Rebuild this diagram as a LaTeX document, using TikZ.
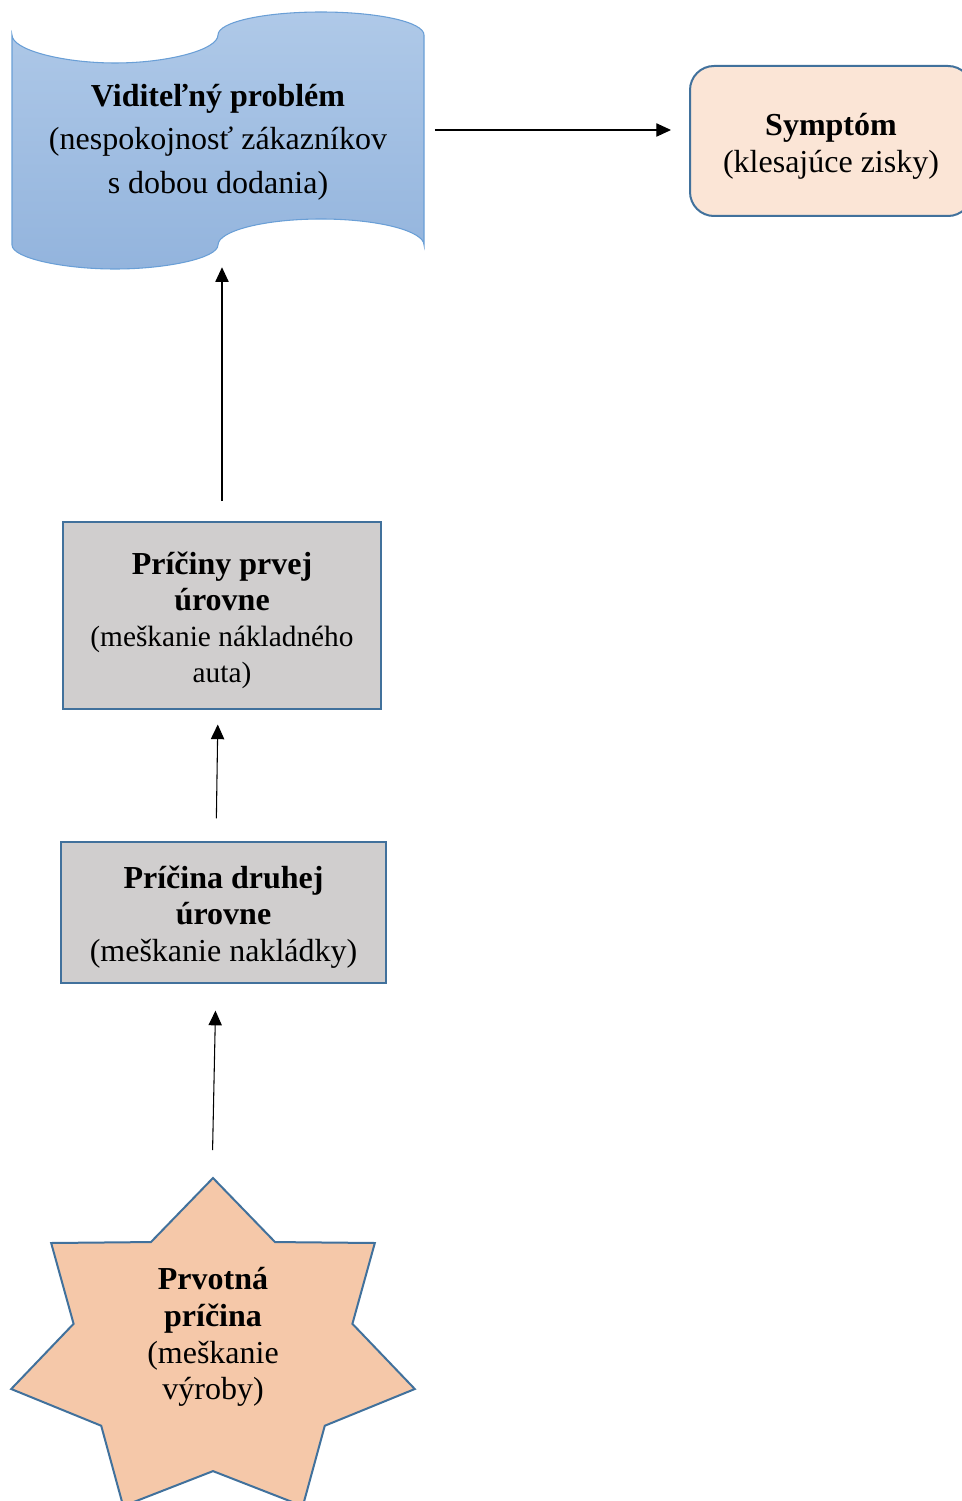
\documentclass[tikz,border=0pt]{standalone}
\usepackage{fontspec}
\setmainfont{Liberation Serif}
\usepackage{tikz}
\usetikzlibrary{arrows.meta}
\definecolor{edgeblue}{HTML}{41719C}
\definecolor{boxgray}{HTML}{D0CECE}
\definecolor{symfill}{HTML}{FBE5D6}
\definecolor{starfill}{HTML}{F5C8A9}
\definecolor{wavetop}{HTML}{AFC9E8}
\definecolor{wavebot}{HTML}{93B4DD}
\definecolor{waveedge}{HTML}{6A9FD6}
% extra room above the first line, pushes the text down
\newcommand{\topgap}[1]{\rule{0pt}{#1}}

\begin{document}
\begin{tikzpicture}[x=0.75pt,y=-0.75pt,
  arr/.style={-{Triangle[length=11pt,width=10pt]}, line width=0.8pt},
  causebox/.style={draw=edgeblue, line width=1.5pt, fill=boxgray, align=center, inner sep=0pt},
  big/.style={font=\fontsize{24}{27.5}\selectfont}]
\useasboundingbox (0,0) rectangle (962,1501);

% viditelny problem (wave)
\shade[top color=wavetop, bottom color=wavebot, draw=waveedge, line width=0.8pt]
  (12,35) .. controls (12,50) and (63,63) .. (115,63) .. controls (167,63) and (218,50) .. (218,35)
  .. controls (218,22) and (264,12) .. (321,12) .. controls (378,12) and (424,22) .. (424,35)
  -- (424,245)
  .. controls (424,231) and (378,219) .. (321,219) .. controls (264,219) and (218,231) .. (218,245)
  .. controls (218,258) and (167,269) .. (115,269) .. controls (63,269) and (12,258) .. (12,245) -- cycle;
\node (problem) [align=center, font=\fontsize{24}{32.5}\selectfont, minimum width=309pt, minimum height=157.5pt]
  at (218,142) {\textbf{Viditeľný problém}\\(nespokojnosť zákazníkov\\s dobou dodania)};

\node (symptom) [draw=edgeblue, line width=1.5pt, fill=symfill, rounded corners=18pt, big, align=center,
  minimum width=211.5pt, minimum height=112.5pt] at (831,141) {\topgap{24.5pt}\textbf{Symptóm}\\(klesajúce zisky)};

\node (first) [causebox, font=\fontsize{22}{27}\selectfont, minimum width=238.5pt, minimum height=140pt]
  at (222,615.5) {\topgap{24.5pt}{\fontsize{24}{27}\selectfont\bfseries Príčiny prvej}\\
  {\fontsize{24}{27}\selectfont\bfseries úrovne}\\(meškanie nákladného\\auta)};

\node (second) [causebox, big, minimum width=243.75pt, minimum height=105.75pt]
  at (223.5,912.5) {\topgap{23.5pt}\textbf{Príčina druhej}\\\textbf{úrovne}\\(meškanie nakládky)};

% prvotna pricina (star)
\draw [edgeblue, line width=1.5pt, fill=starfill]
  plot[samples at={0,...,13}] ({213+(isodd(\x)?143:207)*cos(90-25.7143*\x)},
                               {1350.6-(isodd(\x)?120.5:172.6)*sin(90-25.7143*\x)}) -- cycle;
\coordinate (apex) at (213,1178);
\node (root) [big, align=center] at (213,1337) {\textbf{Prvotná}\\\textbf{príčina}\\(meškanie\\výroby)};

\draw [arr, shorten <=8pt, shorten >=13.5pt] ([yshift=9pt]problem.east) -- ([yshift=9pt]problem.east -| symptom.west);
\draw [arr, shorten <=15pt, shorten >=15pt] (first.north) -- (first.north |- problem.south);
\draw [arr, shorten <=17pt, shorten >=11pt] ([xshift=-5.6pt]second.north) -- ([xshift=-3pt]first.south);
\draw [arr, shorten <=21pt, shorten >=20pt] ([xshift=-0.75pt]apex) -- ([xshift=-5.6pt]second.south);

\end{tikzpicture}
\end{document}
